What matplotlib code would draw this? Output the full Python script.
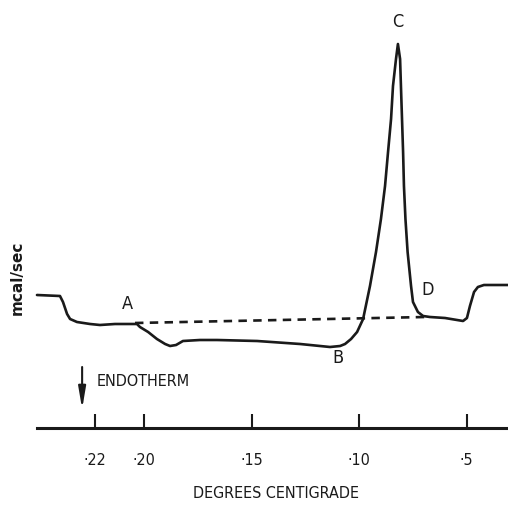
import matplotlib
matplotlib.use("Agg")
import matplotlib.pyplot as plt

# thermogram trace, temperature (deg C) vs heat flow (arbitrary mcal/sec units)
temperature = [-24.98, -23.91, -23.77, -23.58, -23.44, -23.12, -22.51, -22.05,
               -21.35, -20.51, -20.33, -20.19, -19.81, -19.40, -19.02, -18.79,
               -18.51, -18.19, -17.40, -16.60, -14.74, -12.74, -11.35, -10.88,
               -10.65, -10.37, -10.09, -9.81, -9.49, -9.21, -8.98, -8.79,
               -8.65, -8.51, -8.42, -8.28, -8.19, -8.09, -8.05, -8.00,
               -7.95, -7.91, -7.84, -7.74, -7.58, -7.49, -7.26, -7.02,
               -6.70, -6.00, -5.16, -4.98, -4.84, -4.65, -4.47, -4.19,
               -3.67, -3.07]
heat_flow = [0.54, 0.53, 0.47, 0.35, 0.30, 0.27, 0.25, 0.24,
             0.25, 0.25, 0.25, 0.22, 0.17, 0.10, 0.05, 0.03,
             0.04, 0.08, 0.09, 0.09, 0.08, 0.05, 0.02, 0.03,
             0.05, 0.10, 0.17, 0.30, 0.63, 0.97, 1.30, 1.63,
             1.97, 2.30, 2.63, 2.90, 3.05, 2.90, 2.63, 2.30,
             1.97, 1.63, 1.30, 0.97, 0.63, 0.47, 0.37, 0.33,
             0.32, 0.31, 0.28, 0.31, 0.43, 0.57, 0.62, 0.64,
             0.64, 0.64]

# extrapolated baseline A -> D
baseline_temp = [-20.42, -6.93]
baseline_flow = [0.26, 0.32]

# point labels
point_names = ["A", "B", "C", "D"]
point_temp = [-20.78, -10.98, -8.19, -6.79]
point_flow = [0.46, -0.08, 3.28, 0.60]

tick_values = [-22.3, -20, -15, -10, -5]
tick_labels = ["·22", "·20", "·15", "·10", "·5"]

narrow = "DejaVu Sans"

fig = plt.figure(figsize=(5.08, 5.10), dpi=100)
ax = fig.add_axes([0, 0, 1, 1])
ax.set_xlim(-26.70, -3.07)
ax.set_ylim(-1.60, 3.50)

ax.plot(temperature, heat_flow, color="#1a1a1a", lw=1.9,
        solid_joinstyle="round", solid_capstyle="round")
ax.plot(baseline_temp, baseline_flow, color="#1a1a1a", lw=1.9,
        dashes=(3.2, 2.4))

for name, t, f in zip(point_names, point_temp, point_flow):
    ax.text(t, f, name, ha="center", va="center", fontsize=13,
            family=narrow, fontstretch="condensed", color="#1a1a1a")

# temperature scale drawn on the bottom spine
for side in ["top", "right", "left"]:
    ax.spines[side].set_visible(False)
ax.spines["bottom"].set_position(("data", -0.79))
ax.spines["bottom"].set_bounds(-24.98, -3.07)
ax.spines["bottom"].set_linewidth(2.2)
ax.spines["bottom"].set_color("#1a1a1a")
ax.set_xticks(tick_values)
ax.set_xticklabels(tick_labels, family=narrow, fontstretch="condensed",
                   fontsize=11.5, color="#1a1a1a")
ax.tick_params(axis="x", direction="in", length=10, width=1.5,
               pad=17, color="#1a1a1a")
ax.set_yticks([])
ax.patch.set_visible(False)

ax.text(-13.86, -1.44, "DEGREES CENTIGRADE", ha="center", va="center",
        fontsize=11.5, family=narrow, fontstretch="condensed", color="#1a1a1a")
ax.text(-22.2, -0.32, "ENDOTHERM", ha="left", va="center",
        fontsize=11.5, family=narrow, fontstretch="condensed", color="#1a1a1a")
ax.annotate("", xy=(-22.88, -0.60), xytext=(-22.88, -0.18),
            arrowprops=dict(arrowstyle="-|>,head_length=1.3,head_width=0.22",
                            color="#1a1a1a", lw=1.5, shrinkA=0, shrinkB=0))

fig.text(0.033, 0.455, "mcal/sec", rotation=90, ha="center", va="center",
         fontsize=11, fontweight="bold", color="#1a1a1a")

fig.savefig("out.png", dpi=100)
